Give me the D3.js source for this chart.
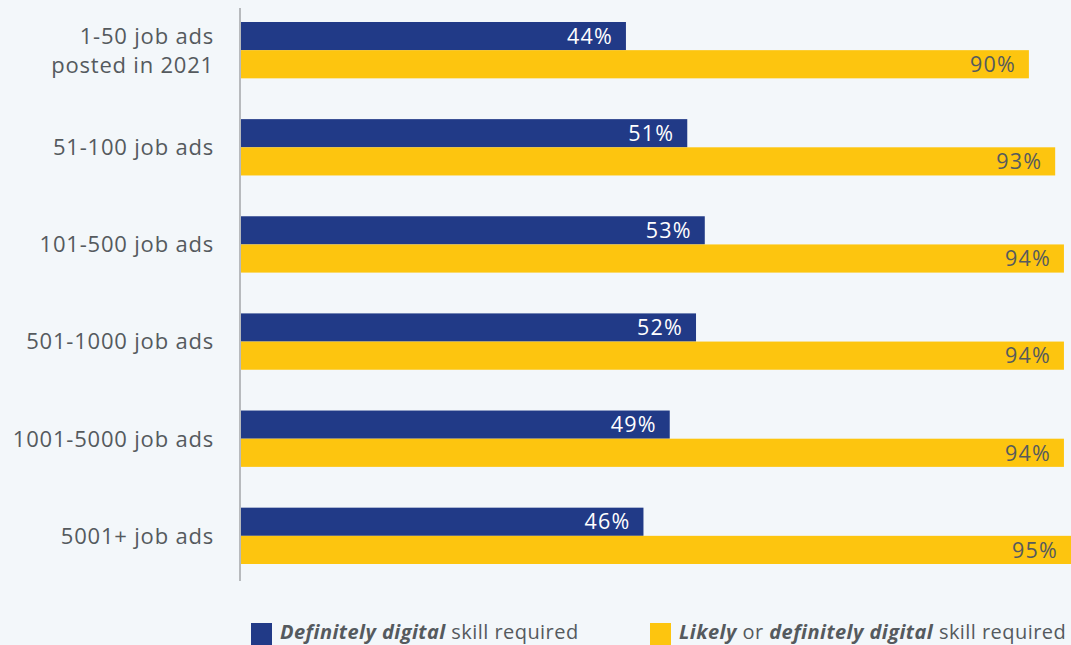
<!DOCTYPE html>
<html>
<head>
<meta charset="utf-8">
<script src="https://cdn.jsdelivr.net/npm/d3@7"></script>
<style>
  html, body { margin: 0; padding: 0; background: #f3f7fa; }
  svg { display: block; font-family: "Open Sans", sans-serif; }
</style>
</head>
<body>
<svg id="chart" width="1071" height="645"></svg>
<script>
const categories = [
  ["1-50 job ads", "posted in 2021"],
  ["51-100 job ads"],
  ["101-500 job ads"],
  ["501-1000 job ads"],
  ["1001-5000 job ads"],
  ["5001+ job ads"]
];
const definitely = [44, 51, 53, 52, 49, 46];
const likely = [90, 93, 94, 94, 94, 95];
const seriesNames = ["definitely", "likely"];
const colors = { definitely: "#213a87", likely: "#fdc50f" };

const width = 1071, height = 645;
const svg = d3.select("#chart");

const keys = categories.map(d => d.join(" "));
const rows = keys.map((k, i) => ({ key: k, lines: categories[i], definitely: definitely[i], likely: likely[i] }));

const x = d3.scaleLinear().domain([0, 100]).range([240.5, 1116.5]);
const y = d3.scaleBand().domain(keys).range([22, 564]).paddingInner(0.42).paddingOuter(0);
const ySub = d3.scaleBand().domain(seriesNames).range([0, y.bandwidth()]);

/* ------- BARS -------*/
const group = svg.append("g")
  .selectAll("g")
  .data(rows)
  .join("g")
  .attr("transform", d => "translate(0," + y(d.key) + ")");

group.selectAll("rect")
  .data(d => seriesNames.map(s => ({ s, v: d[s] })))
  .join("rect")
  .attr("x", x(0))
  .attr("y", d => ySub(d.s))
  .attr("width", d => x(d.v) - x(0))
  .attr("height", ySub.bandwidth())
  .attr("fill", d => colors[d.s]);

group.selectAll("text.val")
  .data(d => seriesNames.map(s => ({ s, v: d[s] })))
  .join("text")
  .attr("class", "val")
  .attr("x", d => Math.min(x(d.v), width) - 13)
  .attr("y", d => ySub(d.s) + ySub.bandwidth() / 2)
  .attr("dy", "0.36em")
  .attr("text-anchor", "end")
  .attr("font-size", 21.5)
  .attr("letter-spacing", 1.2)
  .attr("fill", d => d.s === "definitely" ? "#ffffff" : "#555a5e")
  .text(d => d.v + "%");

/* ------- CATEGORY LABELS -------*/
svg.append("g")
  .selectAll("text")
  .data(rows)
  .join("text")
  .attr("text-anchor", "end")
  .attr("font-size", 22)
  .attr("letter-spacing", 0.8)
  .attr("fill", "#555a5e")
  .each(function(d) {
    const t = d3.select(this);
    const cy = y(d.key) + y.bandwidth() / 2;
    const lh = 29;
    d.lines.forEach((line, i) => {
      t.append("tspan")
        .attr("x", 214)
        .attr("y", cy + (i - (d.lines.length - 1) / 2) * lh)
        .attr("dy", "0.36em")
        .text(line);
    });
  });

/* ------- AXIS LINE -------*/
svg.append("line")
  .attr("x1", 240).attr("x2", 240)
  .attr("y1", 8).attr("y2", 581)
  .attr("stroke", "#b7babd")
  .attr("stroke-width", 2);

/* ------- LEGEND -------*/
const legendItems = [
  { s: "definitely", x: 251, parts: [["Definitely digital", true], [" skill required", false]] },
  { s: "likely", x: 650, parts: [["Likely", true], [" or ", false], ["definitely digital", true], [" skill required", false]] }
];
const legend = svg.append("g").selectAll("g").data(legendItems).join("g")
  .attr("transform", d => "translate(" + d.x + ",623)");
legend.append("rect").attr("width", 21).attr("height", 22).attr("fill", d => colors[d.s]);
legend.append("text")
  .attr("x", 29).attr("y", 15.5)
  .attr("font-size", 20)
  .attr("letter-spacing", 0.45)
  .attr("fill", "#555a5e")
  .selectAll("tspan")
  .data(d => d.parts)
  .join("tspan")
  .attr("font-weight", d => d[1] ? "bold" : null)
  .attr("font-style", d => d[1] ? "italic" : null)
  .text(d => d[0]);
</script>
</body>
</html>
